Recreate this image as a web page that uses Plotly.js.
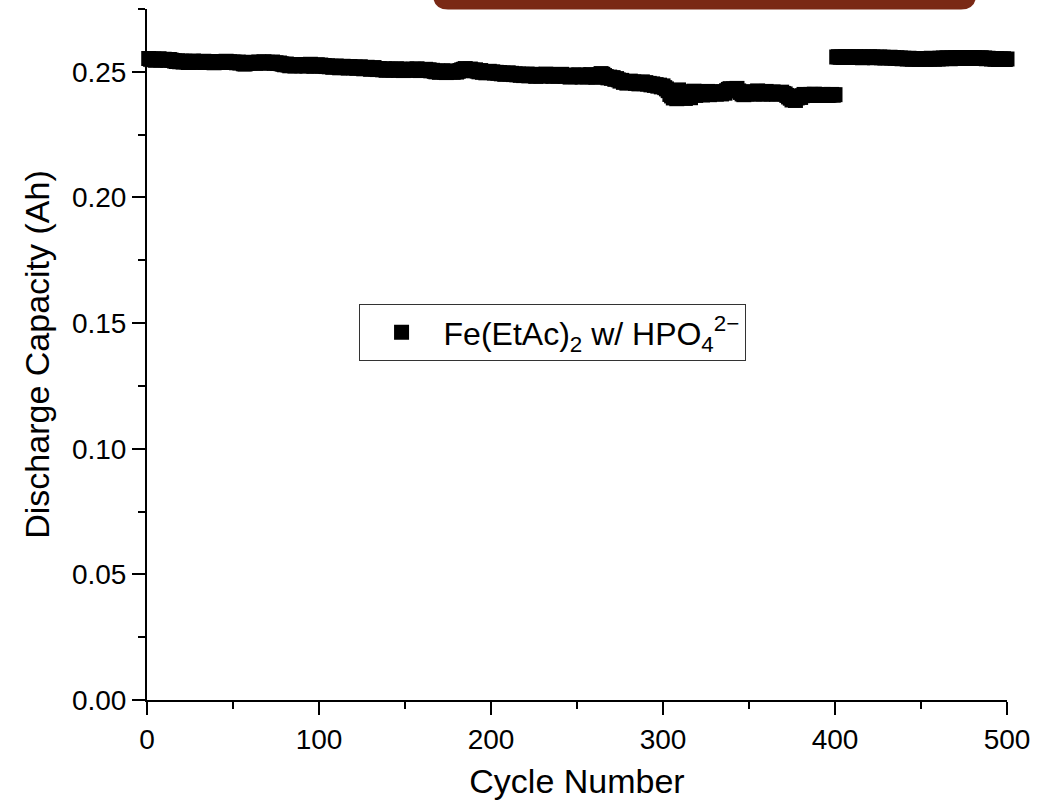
<!DOCTYPE html>
<html>
<head>
<meta charset="utf-8">
<script src="https://cdn.plot.ly/plotly-3.0.1.min.js"></script>
<style>
  html, body { margin: 0; padding: 0; background: #ffffff; }
  #chart { width: 1056px; height: 808px; }
</style>
</head>
<body>
<div id="chart"></div>
<script>
// Discharge capacity (Ah) per cycle, cycles 1-400
const capacityA = [
  0.2553,0.2550,0.2548,0.2551,0.2546,0.2549,0.2552,0.2547,0.2549,0.2550,
  0.2548,0.2546,0.2549,0.2547,0.2545,0.2543,0.2541,0.2544,0.2540,0.2542,
  0.2539,0.2542,0.2540,0.2537,0.2541,0.2539,0.2543,0.2538,0.2540,0.2541,
  0.2538,0.2540,0.2542,0.2537,0.2539,0.2541,0.2538,0.2540,0.2536,0.2539,
  0.2541,0.2538,0.2540,0.2537,0.2539,0.2542,0.2538,0.2540,0.2537,0.2539,
  0.2538,0.2536,0.2539,0.2535,0.2537,0.2532,0.2531,0.2534,0.2537,0.2535,
  0.2538,0.2536,0.2534,0.2537,0.2539,0.2535,0.2537,0.2540,0.2536,0.2538,
  0.2535,0.2537,0.2539,0.2534,0.2536,0.2533,0.2535,0.2532,0.2530,0.2528,
  0.2531,0.2527,0.2524,0.2526,0.2529,0.2523,0.2527,0.2525,0.2528,0.2524,
  0.2526,0.2529,0.2523,0.2527,0.2530,0.2525,0.2522,0.2526,0.2528,0.2524,
  0.2527,0.2523,0.2525,0.2521,0.2524,0.2520,0.2522,0.2518,0.2521,0.2523,
  0.2519,0.2516,0.2520,0.2522,0.2517,0.2519,0.2515,0.2521,0.2518,0.2516,
  0.2519,0.2514,0.2517,0.2520,0.2515,0.2512,0.2516,0.2518,0.2513,0.2510,
  0.2514,0.2517,0.2511,0.2509,0.2513,0.2510,0.2508,0.2512,0.2506,0.2510,
  0.2508,0.2511,0.2507,0.2509,0.2512,0.2506,0.2510,0.2508,0.2505,0.2509,
  0.2511,0.2507,0.2509,0.2506,0.2510,0.2508,0.2512,0.2507,0.2505,0.2509,
  0.2507,0.2510,0.2506,0.2508,0.2504,0.2506,0.2502,0.2500,0.2503,0.2498,
  0.2501,0.2504,0.2499,0.2497,0.2502,0.2500,0.2503,0.2498,0.2501,0.2499,
  0.2502,0.2505,0.2508,0.2510,0.2513,0.2509,0.2506,0.2511,0.2507,0.2504,
  0.2508,0.2503,0.2500,0.2505,0.2498,0.2501,0.2496,0.2499,0.2502,0.2497,
  0.2500,0.2495,0.2498,0.2494,0.2497,0.2492,0.2495,0.2490,0.2493,0.2496,
  0.2491,0.2494,0.2489,0.2492,0.2488,0.2491,0.2486,0.2490,0.2485,0.2488,
  0.2491,0.2484,0.2487,0.2490,0.2485,0.2482,0.2488,0.2486,0.2483,0.2489,
  0.2485,0.2491,0.2487,0.2484,0.2488,0.2482,0.2486,0.2489,0.2483,0.2487,
  0.2490,0.2485,0.2482,0.2486,0.2484,0.2479,0.2483,0.2487,0.2481,0.2485,
  0.2488,0.2482,0.2479,0.2484,0.2486,0.2480,0.2483,0.2489,0.2481,0.2484,
  0.2478,0.2482,0.2487,0.2493,0.2490,0.2485,0.2481,0.2476,0.2479,0.2474,
  0.2477,0.2470,0.2473,0.2468,0.2463,0.2466,0.2458,0.2461,0.2455,0.2459,
  0.2463,0.2457,0.2460,0.2454,0.2458,0.2452,0.2456,0.2460,0.2453,0.2457,
  0.2451,0.2454,0.2448,0.2452,0.2446,0.2449,0.2443,0.2447,0.2440,0.2444,
  0.2437,0.2432,0.2425,0.2410,0.2404,0.2396,0.2420,0.2393,0.2428,0.2401,
  0.2398,0.2415,0.2394,0.2421,0.2408,0.2397,0.2412,0.2423,0.2406,0.2417,
  0.2410,0.2420,0.2408,0.2415,0.2411,0.2422,0.2409,0.2418,0.2413,0.2421,
  0.2411,0.2416,0.2419,0.2412,0.2420,0.2415,0.2425,0.2430,0.2433,0.2427,
  0.2432,0.2428,0.2434,0.2424,0.2418,0.2412,0.2409,0.2416,0.2411,0.2419,
  0.2414,0.2421,0.2412,0.2417,0.2424,0.2413,0.2419,0.2411,0.2416,0.2422,
  0.2413,0.2418,0.2412,0.2420,0.2415,0.2411,0.2417,0.2413,0.2419,0.2414,
  0.2412,0.2406,0.2400,0.2395,0.2388,0.2392,0.2386,0.2396,0.2403,0.2398,
  0.2405,0.2410,0.2407,0.2409,0.2406,0.2410,0.2407,0.2411,0.2408,0.2406,
  0.2409,0.2406,0.2410,0.2407,0.2409,0.2406,0.2408,0.2410,0.2407,0.2409
];

// Discharge capacity (Ah) per cycle, cycles 401-500
const capacityB = [
  0.2559,0.2560,0.2558,0.2559,0.2557,0.2560,0.2558,0.2559,0.2557,0.2559,
  0.2558,0.2560,0.2557,0.2559,0.2558,0.2556,0.2559,0.2557,0.2558,0.2560,
  0.2557,0.2559,0.2556,0.2558,0.2557,0.2559,0.2556,0.2558,0.2555,0.2557,
  0.2556,0.2558,0.2555,0.2557,0.2554,0.2556,0.2553,0.2555,0.2552,0.2554,
  0.2553,0.2551,0.2554,0.2552,0.2550,0.2553,0.2551,0.2552,0.2550,0.2553,
  0.2551,0.2552,0.2550,0.2553,0.2551,0.2554,0.2552,0.2550,0.2553,0.2551,
  0.2554,0.2552,0.2555,0.2553,0.2556,0.2554,0.2552,0.2555,0.2553,0.2556,
  0.2554,0.2556,0.2555,0.2557,0.2554,0.2556,0.2553,0.2555,0.2557,0.2554,
  0.2556,0.2553,0.2555,0.2554,0.2556,0.2553,0.2555,0.2552,0.2554,0.2553,
  0.2551,0.2553,0.2550,0.2552,0.2549,0.2551,0.2550,0.2552,0.2549,0.2551
];

const capacity = capacityA.concat(capacityB);
const cycles = capacity.map((_, i) => i + 1);

const xTicks = [0, 100, 200, 300, 400, 500];
const yTicks = [0, 0.05, 0.10, 0.15, 0.20, 0.25];
const seriesName = 'Fe(EtAc)<sub>2</sub> w/ HPO<sub>4</sub><sup>2\u2212</sup>';

const FONT = 'Liberation Sans, Arial, sans-serif';

const trace = {
  x: cycles,
  y: capacity,
  type: 'scatter',
  mode: 'markers',
  name: seriesName,
  cliponaxis: false,
  marker: { symbol: 'square', size: 15, color: '#000000', line: { width: 0 } }
};

// rounded banner along the top edge
const bx0 = 0.3326, bx1 = 0.9640, by0 = 0.9993, rx = 0.0174, ry = 0.0217, byTop = 1.05;
const bannerPath = `M ${bx0},${byTop} L ${bx0},${by0 + ry} Q ${bx0},${by0} ${bx0 + rx},${by0} ` +
  `L ${bx1 - rx},${by0} Q ${bx1},${by0} ${bx1},${by0 + ry} L ${bx1},${byTop} Z`;

const axisCommon = {
  showgrid: false,
  zeroline: false,
  showline: true,
  linecolor: '#000000',
  linewidth: 2,
  ticks: 'outside',
  tickcolor: '#000000',
  tickwidth: 2,
  ticklen: 13,
  tickfont: { family: FONT, size: 28, color: '#000000' },
  mirror: false
};

const layout = {
  width: 1056,
  height: 808,
  paper_bgcolor: '#ffffff',
  plot_bgcolor: '#ffffff',
  margin: { l: 147, r: 49, t: 9, b: 108 },
  showlegend: true,
  font: { family: FONT, color: '#000000' },
  xaxis: Object.assign({}, axisCommon, {
    range: [0, 500],
    tickmode: 'array',
    tickvals: xTicks,
    ticktext: xTicks.map(String),
    minor: { ticks: 'outside', ticklen: 7, tickwidth: 2, tickcolor: '#000000', dtick: 50, tick0: 0, showgrid: false },
    title: { text: 'Cycle Number', font: { family: FONT, size: 34, color: '#000000' }, standoff: 16 }
  }),
  yaxis: Object.assign({}, axisCommon, {
    range: [0, 0.275],
    tickmode: 'array',
    tickvals: yTicks,
    ticktext: yTicks.map(v => v.toFixed(2)),
    minor: { ticks: 'outside', ticklen: 7, tickwidth: 2, tickcolor: '#000000', dtick: 0.025, tick0: 0, showgrid: false },
    title: { text: 'Discharge Capacity (Ah)', font: { family: FONT, size: 34, color: '#000000' }, standoff: 12 }
  }),
  legend: {
    x: 0.246, y: 0.573, xanchor: 'left', yanchor: 'top',
    bgcolor: '#ffffff', bordercolor: '#333333', borderwidth: 1,
    itemwidth: 74,
    font: { family: FONT, size: 32, color: '#000000' }
  },
  shapes: [{
    type: 'path', xref: 'paper', yref: 'paper', path: bannerPath,
    fillcolor: '#7a2915', line: { width: 0 }, layer: 'above'
  }]
};

Plotly.newPlot('chart', [trace], layout, { staticPlot: true, displayModeBar: false });
</script>
</body>
</html>
